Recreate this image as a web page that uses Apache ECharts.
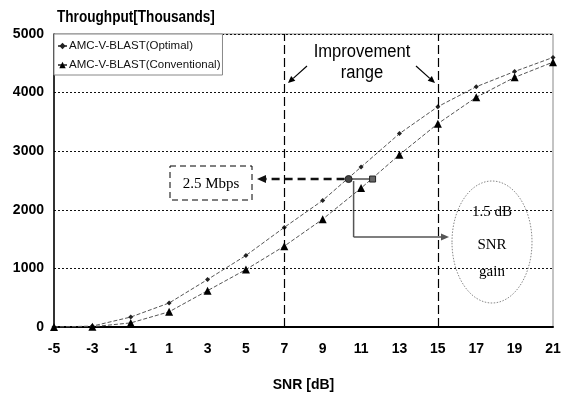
<!DOCTYPE html>
<html><head><meta charset="utf-8">
<script src="https://cdn.jsdelivr.net/npm/echarts@6/dist/echarts.min.js"></script>
<style>html,body{margin:0;padding:0;background:#fff}#c{width:575px;height:398px}</style>
</head><body><div id="c"></div>
<script>
// ---- data ----
const snrDb = [-5, -3, -1, 1, 3, 5, 7, 9, 11, 13, 15, 17, 19, 21];
const optimal = [0, 15, 170, 410, 810, 1220, 1700, 2160, 2730, 3300, 3760, 4100, 4360, 4600];
const conventional = [0, 5, 70, 260, 620, 980, 1380, 1840, 2370, 2940, 3470, 3920, 4260, 4520];
const xTickLabels = [-5, -3, -1, 1, 3, 5, 7, 9, 11, 13, 15, 17, 19, 21];
const yTickLabels = [0, 1000, 2000, 3000, 4000, 5000];
const rangeBounds = [7, 15];          // improvement range (dB)
const targetRate = 2525;              // 2.5 Mbps level
const targetSnr = [10.35, 11.6];      // SNR reaching 2.5 Mbps (optimal, conventional)

const SHIFT = 5; // axis counts from 0 so ticks fall on -5,-3,...
const SANS = "'Liberation Sans', Arial, sans-serif";
const SERIF = "'Liberation Serif', 'Times New Roman', serif";

const chart = echarts.init(document.getElementById('c'));
const pts = arr => snrDb.map((s, i) => [s + SHIFT, arr[i]]);

chart.setOption({
  animation: false,
  backgroundColor: '#fff',
  grid: { left: 54, right: 22, top: 34, bottom: 71, show: true, borderColor: '#888', borderWidth: 1 },
  xAxis: {
    type: 'value', min: 0, max: (xTickLabels[xTickLabels.length - 1] + SHIFT), interval: 2,
    axisLine: { lineStyle: { color: '#000', width: 2 } },
    axisTick: { show: false },
    splitLine: { show: false },
    axisLabel: { formatter: v => String(v - SHIFT), color: '#000', fontFamily: SANS, fontWeight: 'bold', fontSize: 14, margin: 15 },
    name: 'SNR [dB]', nameLocation: 'middle', nameGap: 51,
    nameTextStyle: { color: '#000', fontFamily: SANS, fontWeight: 'bold', fontSize: 14 }
  },
  yAxis: {
    type: 'value', min: yTickLabels[0], max: yTickLabels[yTickLabels.length - 1], interval: 1000,
    axisLine: { show: true, lineStyle: { color: '#000', width: 1.5 } },
    axisTick: { show: false },
    splitLine: { lineStyle: { type: [2, 2], color: '#111', width: 1 } },
    axisLabel: { formatter: v => String(v), color: '#000', fontFamily: SANS, fontWeight: 'bold', fontSize: 14, margin: 10 }
  },
  legend: {
    orient: 'vertical', left: 54, top: 34, padding: [6, 2, 4, 3], itemGap: 7,
    itemWidth: 9, itemHeight: 8,
    backgroundColor: '#fff', borderColor: '#888', borderWidth: 1,
    textStyle: { fontFamily: SANS, fontSize: 11.5, color: '#111', padding: [0, 0, 0, -3] },
    data: ['AMC-V-BLAST(Optimal)', 'AMC-V-BLAST(Conventional)']
  },
  series: [
    {
      name: 'AMC-V-BLAST(Optimal)', type: 'line', data: pts(optimal),
      symbol: 'diamond', symbolSize: 5,
      itemStyle: { color: '#222' },
      lineStyle: { color: '#555', width: 1, type: [4, 2] },
      markLine: {
        silent: true, symbol: 'none', label: { show: false },
        lineStyle: { color: '#000', width: 1.2, type: [9, 4] },
        data: rangeBounds.map(b => ({ xAxis: b + SHIFT }))
      }
    },
    {
      name: 'AMC-V-BLAST(Conventional)', type: 'line', data: pts(conventional),
      symbol: 'triangle', symbolSize: 8,
      itemStyle: { color: '#000' },
      lineStyle: { color: '#555', width: 1, type: [4, 2] }
    }
  ]
});

function px(x, y) { return chart.convertToPixel({ gridIndex: 0 }, [x + SHIFT, y]); }
function arrow(x1, y1, x2, y2, color, width, dash, head) {
  const a = Math.atan2(y2 - y1, x2 - x1);
  const h = head || 8, w = h * 0.45;
  const bx = x2 - h * Math.cos(a), by = y2 - h * Math.sin(a);
  return [
    { type: 'line', shape: { x1, y1, x2: bx, y2: by }, style: { stroke: color, lineWidth: width, lineDash: dash || null }, z: 100 },
    { type: 'polygon', shape: { points: [[x2, y2], [bx + w * Math.sin(a), by - w * Math.cos(a)], [bx - w * Math.sin(a), by + w * Math.cos(a)]] }, style: { fill: color }, z: 100 }
  ];
}

const pO = px(targetSnr[0], targetRate);
const pC = px(targetSnr[1], targetRate);
const g = [];
// title (condensed look)
g.push({ type: 'text', x: 57, y: 17, scaleX: 0.8, style: { text: 'Throughput[Thousands]', font: 'bold 17px ' + SANS, fill: '#000', verticalAlign: 'middle' }, z: 100 });
// improvement range
g.push({ type: 'text', x: 362, y: 52, scaleX: 0.92, style: { text: 'Improvement', font: '18px ' + SANS, fill: '#000', align: 'center', verticalAlign: 'middle' }, z: 100 });
g.push({ type: 'text', x: 362, y: 73, scaleX: 0.92, style: { text: 'range', font: '18px ' + SANS, fill: '#000', align: 'center', verticalAlign: 'middle' }, z: 100 });
g.push(...arrow(307, 66, 288, 83, '#000', 1.2, null, 7));
g.push(...arrow(416, 66, 435, 83, '#000', 1.2, null, 7));
// 2.5 Mbps box
g.push({ type: 'rect', shape: { x: 170, y: 166, width: 82, height: 34 }, style: { fill: 'none', stroke: '#000', lineWidth: 1, lineDash: [6, 4] }, z: 100 });
g.push({ type: 'text', x: 211, y: 184, style: { text: '2.5 Mbps', font: '15px ' + SERIF, fill: '#000', align: 'center', verticalAlign: 'middle' }, z: 100 });
// dashed arrow to box
g.push(...arrow(pO[0] - 4, pO[1], 257, pO[1], '#111', 2.5, [8, 5], 9));
// short segment between curves at 2.5 Mbps
g.push({ type: 'line', shape: { x1: pO[0], y1: pO[1], x2: pC[0], y2: pC[1] }, style: { stroke: '#777', lineWidth: 2 }, z: 100 });
g.push({ type: 'circle', shape: { cx: pO[0], cy: pO[1], r: 3.5 }, style: { fill: '#444', stroke: '#222' }, z: 101 });
g.push({ type: 'rect', shape: { x: pC[0] - 3, y: pC[1] - 3, width: 6, height: 6 }, style: { fill: '#666', stroke: '#222' }, z: 101 });
// elbow arrow to gain ellipse
const ex = pO[0] + 5;
g.push({ type: 'polyline', shape: { points: [[ex, pO[1] + 2], [ex, 237]] }, style: { stroke: '#555', lineWidth: 1.5 }, z: 100 });
g.push(...arrow(ex, 237, 449, 237, '#555', 1.5, null, 8));
// ellipse
g.push({ type: 'ellipse', shape: { cx: 492, cy: 242, rx: 40, ry: 61 }, style: { fill: 'none', stroke: '#888', lineWidth: 1, lineDash: [1.5, 1.5] }, z: 100 });
g.push({ type: 'text', x: 492, y: 212, style: { text: '1.5 dB', font: '15px ' + SERIF, fill: '#000', align: 'center', verticalAlign: 'middle' }, z: 100 });
g.push({ type: 'text', x: 492, y: 245, style: { text: 'SNR', font: '15px ' + SERIF, fill: '#000', align: 'center', verticalAlign: 'middle' }, z: 100 });
g.push({ type: 'text', x: 492, y: 272, style: { text: 'gain', font: '15px ' + SERIF, fill: '#000', align: 'center', verticalAlign: 'middle' }, z: 100 });

chart.setOption({ graphic: g });
</script>
</body></html>
